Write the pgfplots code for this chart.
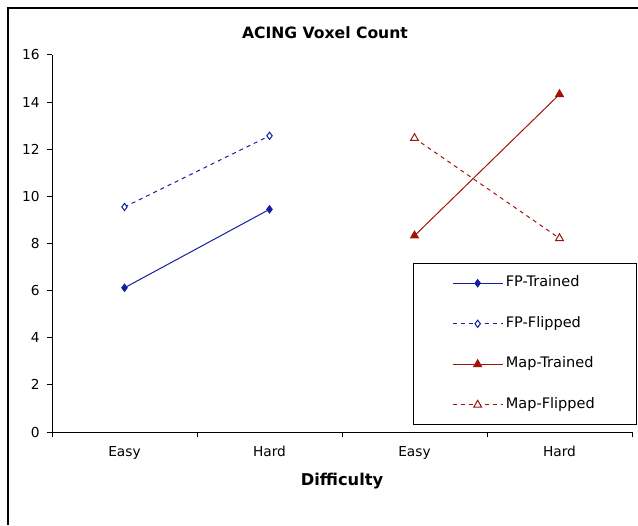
\documentclass[border=0pt]{standalone}
\usepackage{fontspec}
\setmainfont{DejaVu Sans}
\usepackage{pgfplots}
\pgfplotsset{compat=1.18}
\definecolor{navyb}{RGB}{20,30,160}
\definecolor{darkr}{RGB}{160,20,10}
\begin{document}
\begin{tikzpicture}
\useasboundingbox (0,0) rectangle (478.5pt,393.75pt);
\draw[line width=1.5pt] (6pt,0) -- (6pt,387.75pt) -- (478.5pt,387.75pt);
\begin{axis}[
  at={(39pt,69.75pt)}, anchor=south west,
  scale only axis, width=435pt, height=282.75pt,
  xmin=0, xmax=4, ymin=0, ymax=16,
  axis lines*=left,
  axis line style={black, line width=0.75pt},
  tick align=outside,
  major tick length=3.75pt,
  every tick/.style={black, line width=0.75pt},
  ytick={0,2,...,16},
  xtick={0,1,2,3,4},
  xticklabels={},
  extra x ticks={0.5,1.5,2.5,3.5},
  extra x tick labels={Easy,Hard,Easy,Hard},
  extra x tick style={tick style={draw=none}},
  /pgf/number format/assume math mode=true,
  ticklabel style={font=\fontsize{10.3}{12}\selectfont},
  xticklabel style={anchor=center, text height=0.75em, text depth=0.25em, yshift=-12pt},
  yticklabel style={xshift=-2pt},
  clip=false,
  title={ACING Voxel Count},
  title style={font=\bfseries\fontsize{11.7}{14}\selectfont, at={(0.4707,1)}, anchor=center, yshift=10.5pt},
  xlabel={Difficulty},
  xlabel style={font=\bfseries\fontsize{12.2}{14}\selectfont, at={(0.5,0)}, anchor=center, yshift=-36.5pt},
  legend image code/.code={\draw[mark repeat=2,mark phase=2] plot coordinates {(0pt,0pt) (18.75pt,0pt) (37.5pt,0pt)};},
  legend style={at={(0.6224,0.4483)}, anchor=north west, draw=black, line width=0.75pt, fill=white,
    font=\fontsize{10.9}{12}\selectfont, inner xsep=29pt, inner ysep=7.8pt, row sep=16.4pt,
    nodes={text height=0.75em, text depth=0.25em}},
  legend cell align=left,
]
\addplot[navyb, line width=0.75pt, mark=diamond*, mark size=2.7pt, mark options={solid, fill=navyb}]
  coordinates {(0.5,6.12) (1.5,9.45)};
\addlegendentry{FP-Trained}
\addplot[navyb, line width=0.75pt, dash pattern=on 3pt off 3pt, mark=diamond*, mark size=2.7pt, mark options={solid, fill=white}]
  coordinates {(0.5,9.55) (1.5,12.57)};
\addlegendentry{FP-Flipped}
\addplot[darkr, line width=0.75pt, mark=triangle*, mark size=3.4pt, mark options={solid, fill=darkr}]
  coordinates {(2.5,8.33) (3.5,14.33)};
\addlegendentry{Map-Trained}
\addplot[darkr, line width=0.75pt, dash pattern=on 3pt off 3pt, mark=triangle*, mark size=3.4pt, mark options={solid, fill=white}]
  coordinates {(2.5,12.47) (3.5,8.22)};
\addlegendentry{Map-Flipped}
\end{axis}
\end{tikzpicture}
\end{document}
